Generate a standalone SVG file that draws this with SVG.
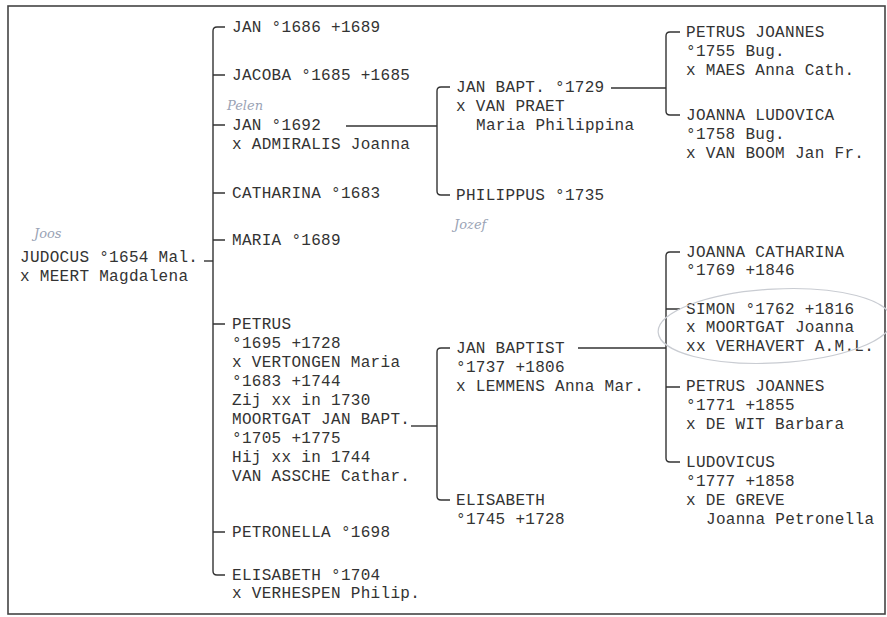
<svg xmlns="http://www.w3.org/2000/svg" width="887" height="617" viewBox="0 0 887 617">
<style>
.t{font-family:"Liberation Mono","DejaVu Sans Mono",monospace;font-size:16px;letter-spacing:0.3px;fill:#333}
.c{fill:none;stroke:#333;stroke-width:1.4}
.h{font-family:"DejaVu Serif",serif;font-style:italic;font-size:13px;fill:#9aa3b5}
</style>
<rect x="0" y="0" width="887" height="617" fill="#fff"/>
<rect x="8" y="6" width="877" height="608" fill="none" stroke="#444" stroke-width="1.6"/>
<g id="connectors" class="c">
  <path d="M225 27 H217 Q213 27 213 31 V571 Q213 575 217 575 H225"/>
  <path d="M213 75 H225 M213 125 H225 M213 193 H225 M213 240 H225 M213 324 H225 M213 532 H225"/>
  <path d="M204 261 H213"/>
  <path d="M346 126 H437"/>
  <path d="M450 87 H441 Q437 87 437 91 V191 Q437 195 441 195 H450"/>
  <path d="M611 88 H666"/>
  <path d="M680 32 H670 Q666 32 666 36 V111 Q666 115 670 115 H680"/>
  <path d="M411 426 H437"/>
  <path d="M450 348 H441 Q437 348 437 352 V496 Q437 500 441 500 H450"/>
  <path d="M578 348 H666"/>
  <path d="M680 252 H670 Q666 252 666 256 V458 Q666 462 670 462 H680"/>
  <path d="M666 309 H680 M666 387 H680"/>
</g>
<g id="root"><text class="t" x="20" y="262">JUDOCUS °1654 Mal.</text><text class="t" x="20" y="281">x MEERT Magdalena</text></g>
<g id="jan1686"><text class="t" x="232" y="32">JAN °1686 +1689</text></g>
<g id="jacoba"><text class="t" x="232" y="80">JACOBA °1685 +1685</text></g>
<g id="jan1692"><text class="t" x="232" y="130">JAN °1692</text><text class="t" x="232" y="149">x ADMIRALIS Joanna</text></g>
<g id="catharina"><text class="t" x="232" y="198">CATHARINA °1683</text></g>
<g id="maria"><text class="t" x="232" y="245">MARIA °1689</text></g>
<g id="petrus"><text class="t" x="232" y="329">PETRUS</text><text class="t" x="232" y="348">°1695 +1728</text><text class="t" x="232" y="367">x VERTONGEN Maria</text><text class="t" x="232" y="386">°1683 +1744</text><text class="t" x="232" y="405">Zij xx in 1730</text><text class="t" x="232" y="424">MOORTGAT JAN BAPT.</text><text class="t" x="232" y="443">°1705 +1775</text><text class="t" x="232" y="462">Hij xx in 1744</text><text class="t" x="232" y="481">VAN ASSCHE Cathar.</text></g>
<g id="petronella"><text class="t" x="232" y="537">PETRONELLA °1698</text></g>
<g id="elisabeth1704"><text class="t" x="232" y="580">ELISABETH °1704</text><text class="t" x="232" y="598">x VERHESPEN Philip.</text></g>
<g id="janbapt1729"><text class="t" x="456" y="92">JAN BAPT. °1729</text><text class="t" x="456" y="111">x VAN PRAET</text><text class="t" x="476" y="130">Maria Philippina</text></g>
<g id="philippus"><text class="t" x="456" y="200">PHILIPPUS °1735</text></g>
<g id="janbaptist"><text class="t" x="456" y="353">JAN BAPTIST</text><text class="t" x="456" y="372">°1737 +1806</text><text class="t" x="456" y="391">x LEMMENS Anna Mar.</text></g>
<g id="elisabeth1745"><text class="t" x="456" y="505">ELISABETH</text><text class="t" x="456" y="524">°1745 +1728</text></g>
<g id="petrusjoannes1755"><text class="t" x="686" y="37">PETRUS JOANNES</text><text class="t" x="686" y="56">°1755 Bug.</text><text class="t" x="686" y="75">x MAES Anna Cath.</text></g>
<g id="joannaludovica"><text class="t" x="686" y="120">JOANNA LUDOVICA</text><text class="t" x="686" y="139">°1758 Bug.</text><text class="t" x="686" y="158">x VAN BOOM Jan Fr.</text></g>
<g id="joannacatharina"><text class="t" x="686" y="257">JOANNA CATHARINA</text><text class="t" x="686" y="275">°1769 +1846</text></g>
<g id="simon"><text class="t" x="686" y="314">SIMON °1762 +1816</text><text class="t" x="686" y="332">x MOORTGAT Joanna</text><text class="t" x="686" y="351">xx VERHAVERT A.M.L.</text></g>
<g id="petrusjoannes1771"><text class="t" x="686" y="391">PETRUS JOANNES</text><text class="t" x="686" y="410">°1771 +1855</text><text class="t" x="686" y="429">x DE WIT Barbara</text></g>
<g id="ludovicus"><text class="t" x="686" y="467">LUDOVICUS</text><text class="t" x="686" y="486">°1777 +1858</text><text class="t" x="686" y="505">x DE GREVE</text><text class="t" x="706" y="524">Joanna Petronella</text></g>
<g id="annotations">
  <ellipse cx="775" cy="326" rx="117" ry="37" fill="none" stroke="#c9ccd2" stroke-width="1.2" transform="rotate(-3 775 326)"/>
  <text class="h" x="227" y="110">Pelen</text>
  <text class="h" x="34" y="238">Joos</text>
  <text class="h" x="454" y="229">Jozef</text>
</g>
</svg>
